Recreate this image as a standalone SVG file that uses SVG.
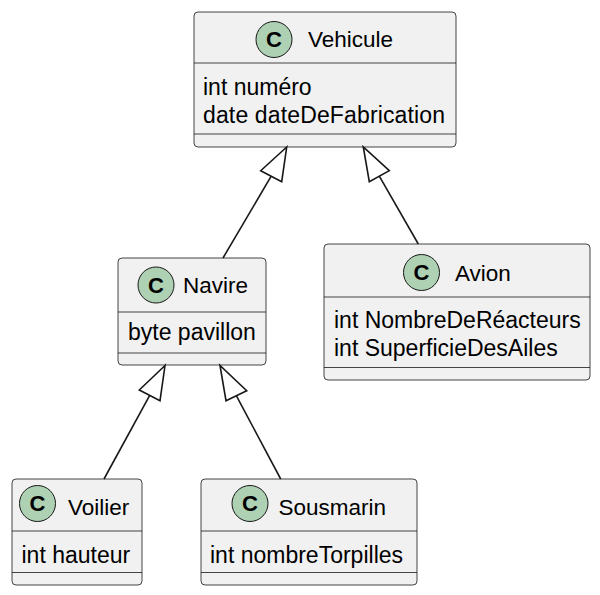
<svg xmlns="http://www.w3.org/2000/svg" width="600" height="595" viewBox="0 0 600 595">
<defs>
<style>
.box{fill:#F1F1F1;stroke:#181818;stroke-width:0.8}
.sep{stroke:#181818;stroke-width:0.8}
.spot{fill:#ADD1B2;stroke:#181818;stroke-width:1}
.c{font-family:"Liberation Sans",Arial,sans-serif;font-size:22px;font-weight:bold;fill:#000;text-anchor:middle}
.name{font-family:"Liberation Sans",Arial,sans-serif;font-size:22.5px;fill:#000}
.attr{font-family:"Liberation Sans",Arial,sans-serif;font-size:23px;fill:#000}
.edge{stroke:#181818;stroke-width:1.6;fill:none}
.head{fill:none;stroke:#181818;stroke-width:1.6}
</style>
</defs>
<rect width="600" height="595" fill="#FFFFFF"/>
<g id="Vehicule">
<rect class="box" x="194" y="12" width="262" height="135" rx="4"/>
<circle class="spot" cx="274" cy="39.5" r="18"/>
<text class="c" x="274" y="47.3">C</text>
<text class="name" x="308" y="47">Vehicule</text>
<line class="sep" x1="194" y1="63" x2="456" y2="63"/>
<text class="attr" x="203" y="94.5">int numéro</text>
<text class="attr" x="203" y="122.5" textLength="242">date dateDeFabrication</text>
<line class="sep" x1="194" y1="134" x2="456" y2="134"/>
</g>
<g id="Navire">
<rect class="box" x="118" y="258" width="148" height="107" rx="4"/>
<circle class="spot" cx="156" cy="285" r="18"/>
<text class="c" x="156" y="292.8">C</text>
<text class="name" x="183" y="293">Navire</text>
<line class="sep" x1="118" y1="312" x2="266" y2="312"/>
<text class="attr" x="128" y="340">byte pavillon</text>
<line class="sep" x1="118" y1="353" x2="266" y2="353"/>
</g>
<g id="Avion">
<rect class="box" x="324" y="244" width="266" height="136" rx="4"/>
<circle class="spot" cx="421.5" cy="272.5" r="18"/>
<text class="c" x="421.5" y="280.3">C</text>
<text class="name" x="455" y="280.5">Avion</text>
<line class="sep" x1="324" y1="297" x2="590" y2="297"/>
<text class="attr" x="334" y="328">int NombreDeRéacteurs</text>
<text class="attr" x="334" y="356">int SuperficieDesAiles</text>
<line class="sep" x1="324" y1="367.5" x2="590" y2="367.5"/>
</g>
<g id="Voilier">
<rect class="box" x="12" y="479" width="130" height="106" rx="4"/>
<circle class="spot" cx="37.5" cy="503.5" r="18"/>
<text class="c" x="37.5" y="511.3">C</text>
<text class="name" x="68" y="515">Voilier</text>
<line class="sep" x1="12" y1="531" x2="142" y2="531"/>
<text class="attr" x="21.5" y="562.5">int hauteur</text>
<line class="sep" x1="12" y1="572.5" x2="142" y2="572.5"/>
</g>
<g id="Sousmarin">
<rect class="box" x="201" y="479" width="216" height="106" rx="4"/>
<circle class="spot" cx="250" cy="503.5" r="18"/>
<text class="c" x="250" y="511.3">C</text>
<text class="name" x="278.5" y="515">Sousmarin</text>
<line class="sep" x1="201" y1="531" x2="417" y2="531"/>
<text class="attr" x="210" y="562.5">int nombreTorpilles</text>
<line class="sep" x1="201" y1="572.5" x2="417" y2="572.5"/>
</g>
<g id="connectors">
<line class="edge" x1="223" y1="258" x2="271.2" y2="176.2"/>
<polygon class="head" points="286.7,147 260.7,170.7 281.7,181.7"/>
<line class="edge" x1="418.3" y1="244" x2="379.3" y2="176.2"/>
<polygon class="head" points="363.3,147 369.3,181.7 389.3,170.7"/>
<line class="edge" x1="104" y1="479" x2="149.7" y2="395.4"/>
<polygon class="head" points="165,365.5 139.3,390 160,400.7"/>
<line class="edge" x1="280.7" y1="479" x2="236.3" y2="395.7"/>
<polygon class="head" points="220,365.5 226,400.7 246.7,390.7"/>
</g>
</svg>
